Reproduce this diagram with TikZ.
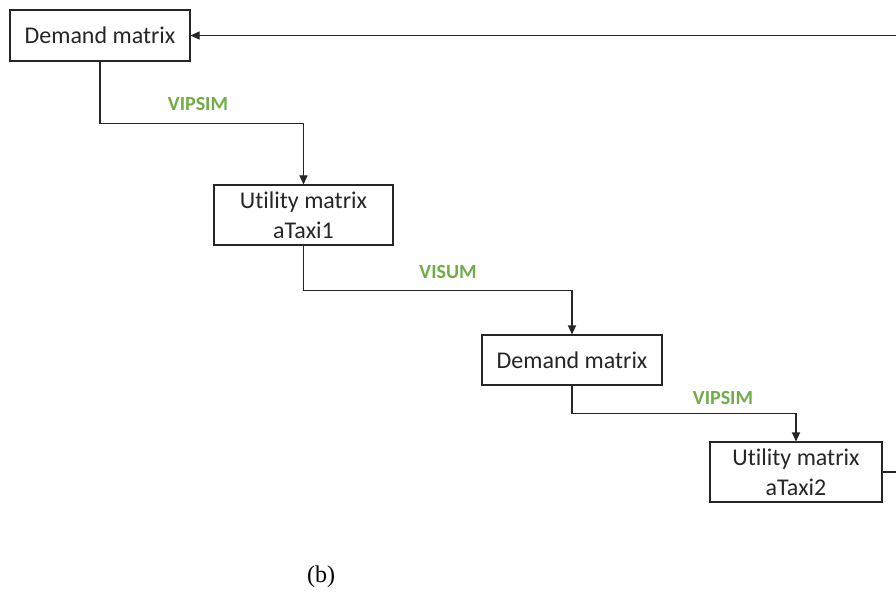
\documentclass[tikz,border=0pt]{standalone}
\usepackage{fontspec}
\setmainfont{Carlito}[RawFeature={-liga;-dlig;-clig}]
\newfontfamily\capfont{Liberation Serif}
\usetikzlibrary{arrows.meta}
\definecolor{lblgreen}{HTML}{70AD47}
\definecolor{linegrey}{HTML}{262626}
\tikzset{
  box/.style={draw=linegrey, line width=1.1pt, fill=white, inner sep=0pt, align=center,
    font=\fontsize{24}{30}\selectfont, text=black!85},
  conn/.style={draw=linegrey, line width=1.1pt, -{Triangle[length=9pt,width=8pt]}},
  lbl/.style={font=\fontsize{20}{22}\selectfont\bfseries, text=lblgreen, inner sep=0pt},
}
\begin{document}
\begin{tikzpicture}[x=1pt,y=-1pt]
\clip (0,0) rectangle (896,604);
\fill[white] (0,0) rectangle (896,604);
\node[box, minimum width=180pt, minimum height=51pt] (b1) at (100,35.5) {Demand matrix};
\node[box, minimum width=179pt, minimum height=60pt] (b2) at (303.5,215) {Utility matrix\\aTaxi1};
\node[box, minimum width=180pt, minimum height=50pt] (b3) at (572,360) {Demand matrix};
\node[box, minimum width=172pt, minimum height=60pt] (b4) at (796,472) {Utility matrix\\aTaxi2};
\coordinate (r1) at (912,472);
\coordinate (r2) at (912,35.5);
\draw[conn] (b1.south) -- ++(0,62) -| (b2.north);
\draw[conn] (b2.south) -- ++(0,45) -| (b3.north);
\draw[conn] (b3.south) -- ++(0,28) -| (b4.north);
\draw[conn] (b4.east) -- (r1) -- (r2) -- (b1.east);
\node[lbl] (l1) at (198,104) {VIPSIM};
\node[lbl] (l2) at (448,272) {VISUM};
\node[lbl] (l3) at (723,398) {VIPSIM};
\node[font=\capfont\fontsize{24}{28}\selectfont, inner sep=0pt] (cap) at (321,577) {(b)};
\end{tikzpicture}
\end{document}
